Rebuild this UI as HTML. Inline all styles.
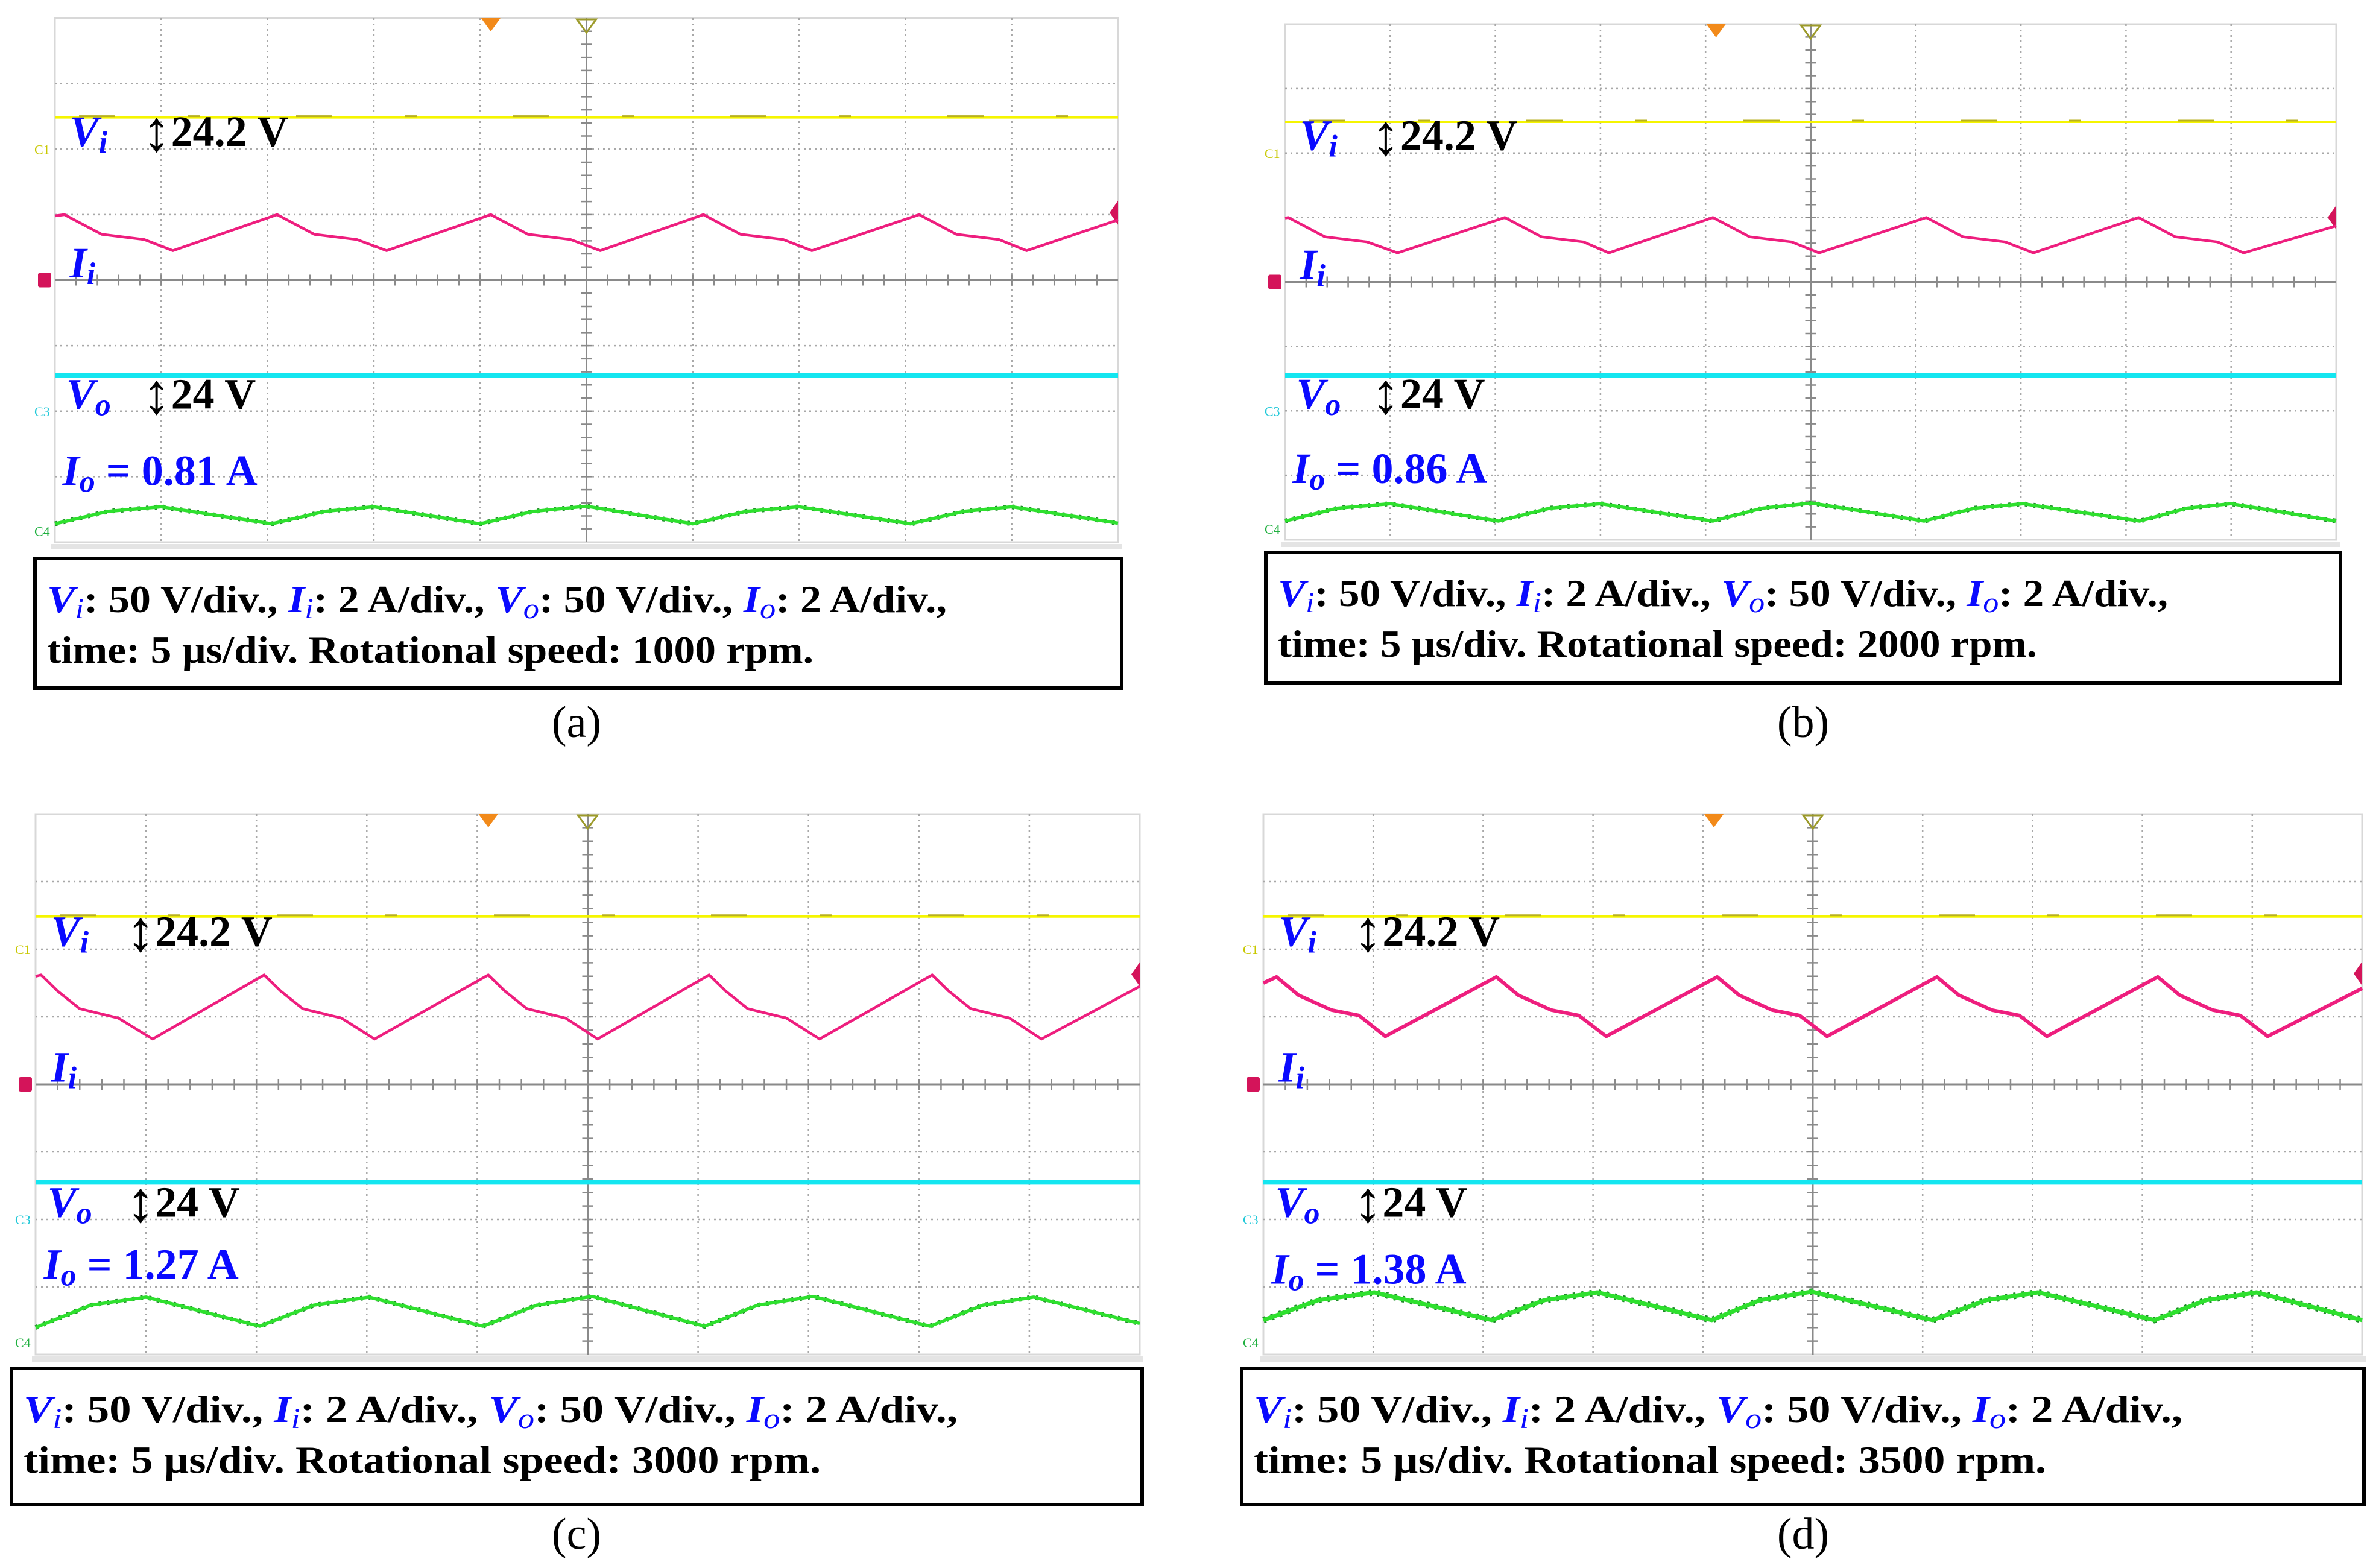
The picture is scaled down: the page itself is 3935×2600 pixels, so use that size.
<!DOCTYPE html>
<html><head><meta charset="utf-8">
<style>
html,body{margin:0;padding:0;background:#fff;}
svg{display:block;}
text{font-family:"Liberation Serif",serif;}
</style></head>
<body>
<svg id="fig" width="3935" height="2600" viewBox="0 0 3935 2600" xmlns="http://www.w3.org/2000/svg"></svg>
<script>
// ---- data (time in µs, current in A, voltage in V) ----
const viV = [24.2, 24.2, 24.2, 24.2];
const voV = [24, 24, 24, 24];
const ioLabels = ["0.81", "0.86", "1.27", "1.38"];
const speeds = ["1000", "2000", "3000", "3500"];
const panelLetters = ["a", "b", "c", "d"];

const iiT_a = [0,0.45,2.2,4.2,5.55,10.45,12.2,14.2,15.6,20.5,22.25,24.25,25.65,30.5,32.25,34.25,35.6,40.65,42.4,44.4,45.7,50];
const iiA_a = [1.96,2.0,1.4,1.24,0.9,2.0,1.4,1.24,0.9,2.0,1.4,1.24,0.9,2.0,1.4,1.24,0.9,2.0,1.4,1.24,0.9,1.84];
const iiT_b = [0,0.15,1.9,3.9,5.35,10.45,12.2,14.2,15.4,20.35,22.1,24.1,25.4,30.5,32.25,34.25,35.6,40.6,42.35,44.35,45.6,50];
const iiA_b = [1.98,2.0,1.4,1.24,0.9,2.0,1.4,1.24,0.9,2.0,1.4,1.24,0.9,2.0,1.4,1.24,0.9,2.0,1.4,1.24,0.9,1.74];
const iiT_c = [0,0.25,1.0,2.0,3.75,5.3,10.35,11.1,12.1,13.85,15.35,20.5,21.25,22.25,24.0,25.45,30.5,31.25,32.25,34.0,35.5,40.6,41.35,42.35,44.1,45.55,50];
const iiA_c = [3.2,3.24,2.76,2.24,1.96,1.34,3.24,2.76,2.24,1.96,1.34,3.24,2.76,2.24,1.96,1.34,3.24,2.76,2.24,1.96,1.34,3.24,2.76,2.24,1.96,1.34,2.9];
const iiT_d = [0,0.6,1.6,3.1,4.35,5.55,10.6,11.6,13.1,14.35,15.6,20.65,21.65,23.15,24.4,25.65,30.65,31.65,33.15,34.4,35.65,40.7,41.7,43.2,44.45,45.7,50];
const iiA_d = [3.0,3.18,2.64,2.2,2.04,1.42,3.18,2.64,2.2,2.04,1.42,3.18,2.64,2.2,2.04,1.42,3.18,2.64,2.2,2.04,1.42,3.18,2.64,2.2,2.04,1.42,2.84];

const ioT_a = [0,2.5,5,10.2,12.7,15,20,22.5,25,30,32.5,35,40.25,42.75,45,50];
const ioA_a = [0.22,0.6,0.74,0.22,0.6,0.74,0.22,0.6,0.76,0.22,0.6,0.74,0.22,0.6,0.74,0.24];
const ioT_b = [0,2.5,5,10.15,12.6,15,20.35,22.7,25.05,30.4,32.8,35.1,40.65,42.9,45,50];
const ioA_b = [0.24,0.64,0.78,0.24,0.64,0.78,0.24,0.64,0.8,0.24,0.64,0.78,0.24,0.64,0.78,0.24];
const ioT_c = [0,2.5,5,10.15,12.6,15.1,20.25,22.7,25.2,30.3,32.7,35.2,40.5,42.9,45.2,50];
const ioA_c = [0.44,1.1,1.34,0.48,1.1,1.34,0.48,1.1,1.36,0.48,1.1,1.36,0.48,1.1,1.34,0.56];
const ioT_d = [0,2.5,5.05,10.4,12.8,15.2,20.4,22.6,24.95,30.45,32.9,35.25,40.55,42.9,45.2,50];
const ioA_d = [0.66,1.25,1.48,0.66,1.25,1.48,0.66,1.25,1.5,0.66,1.25,1.48,0.66,1.25,1.48,0.66];

const iiTs = [iiT_a, iiT_b, iiT_c, iiT_d];
const iiAs = [iiA_a, iiA_b, iiA_c, iiA_d];
const ioTs = [ioT_a, ioT_b, ioT_c, ioT_d];
const ioAs = [ioA_a, ioA_b, ioA_c, ioA_d];

// ---- layout (pixels) ----
const layout = [
 {sx0:91,sy0:30,sx1:1854,sy1:899, bx0:55,by0:923,bx1:1863,by1:1144, l1:1492,l2:1271, lx:956,ly:1222, ioDiv:7.13, trig:2.97, ref4:7.83},
 {sx0:2131,sy0:40,sx1:3874,sy1:895, bx0:2096,by0:913,bx1:3884,by1:1136, l1:1476,l2:1259, lx:2990,ly:1222, ioDiv:7.12, trig:3.0, ref4:7.83},
 {sx0:59,sy0:1350,sx1:1890,sy1:2246, bx0:16,by0:2266,bx1:1897,by1:2498, l1:1549,l2:1322, lx:956,ly:2568, ioDiv:6.88, trig:2.37, ref4:7.82},
 {sx0:2095,sy0:1350,sx1:3917,sy1:2246, bx0:2056,by0:2266,bx1:3923,by1:2498, l1:1540,l2:1314, lx:2990,ly:2568, ioDiv:6.95, trig:2.36, ref4:7.82}
];

const NS = "http://www.w3.org/2000/svg";
const svg = document.getElementById('fig');
function mk(tag, attrs, parent){
  const e = document.createElementNS(NS, tag);
  for (const k in attrs) e.setAttribute(k, attrs[k]);
  (parent||svg).appendChild(e);
  return e;
}
const BLUE = "#0a0aff";

layout.forEach((L, p) => {
  const g = mk('g', {});
  
  
  const W = L.sx1 - L.sx0, H = L.sy1 - L.sy0;
  const X = t => L.sx0 + t / 50 * W;
  const Yd = d => L.sy0 + d / 8 * H;
  const yIi = a => Yd(4 - a / 2);
  const yIo = a => Yd(L.ref4 - a / 2);
  const yVi = v => Yd(2 - v / 50);
  const yVo = v => Yd(5.93 - v / 50);

  const scr = mk('rect', {x:L.sx0, y:L.sy0, width:W, height:H, fill:'#fff', stroke:'#d8d8d8', 'stroke-width':3}, g);
  
  
  const strip = mk('rect', {x:L.sx0-6, y:L.sy1+3, width:W+12, height:9, fill:'#e4e4e4'}, g);
  
  

  const grid = mk('g', {stroke:'#a8a8a8', 'stroke-width':2.5, 'stroke-dasharray':'3 6'}, g);
  
  
  for (let i = 1; i < 10; i++) if (i !== 5) mk('line', {x1:L.sx0 + i*W/10, y1:L.sy0, x2:L.sx0 + i*W/10, y2:L.sy1}, grid);
  for (let j = 1; j < 8; j++) if (j !== 4) mk('line', {x1:L.sx0, y1:L.sy0 + j*H/8, x2:L.sx1, y2:L.sy0 + j*H/8}, grid);
  const ax = mk('g', {stroke:'#8a8a8a', 'stroke-width':3}, g);
  
  
  const cx = L.sx0 + W/2, cy = L.sy0 + H/2;
  mk('line', {x1:L.sx0, y1:cy, x2:L.sx1, y2:cy}, ax);
  mk('line', {x1:cx, y1:L.sy0, x2:cx, y2:L.sy1}, ax);
  for (let k = 1; k < 50; k++) { const x = L.sx0 + k*W/50; mk('line', {x1:x, y1:cy-9, x2:x, y2:cy+9, 'stroke-width':2.5}, ax); }
  for (let k = 1; k < 40; k++) { const y = L.sy0 + k*H/40; mk('line', {x1:cx-9, y1:y, x2:cx+9, y2:y, 'stroke-width':2.5}, ax); }

  const mx = L.sx0 + 4.1*W/10;
  const tri = mk('polygon', {points:`${mx-16},${L.sy0} ${mx+16},${L.sy0} ${mx},${L.sy0+22}`, fill:'#f28a1a'}, g);
  
  
  const tri2 = mk('polygon', {points:`${cx-16},${L.sy0+2} ${cx+16},${L.sy0+2} ${cx},${L.sy0+24}`, fill:'none', stroke:'#9c9a2a', 'stroke-width':3}, g);
  
  
  const ty = Yd(L.trig);
  const tl = mk('polygon', {points:`${L.sx1},${ty-20} ${L.sx1-14},${ty} ${L.sx1},${ty+20}`, fill:'#d4145a'}, g);
  
  

  const chs = [["C1",2,"#c8c800"],["C2",4,"#d4145a"],["C3",6,"#20c8d8"],["C4",L.ref4,"#20b040"]];
  chs.forEach(c => {
    const yy = Yd(c[1]);
    if (c[0] === "C2") {
      const r = mk('rect', {x:L.sx0-28, y:yy-12, width:22, height:24, fill:'#d4145a', rx:3}, g);
      
      
    } else {
      const t = mk('text', {x:L.sx0-34, y:yy+8, 'font-size':22, fill:c[2], 'font-family':'Liberation Sans, sans-serif'}, g);
      t.textContent = c[0];
      
      
    }
  });

  const path = (ts, as, yf) => ts.map((t,i) => (i?'L':'M') + X(t).toFixed(1) + ',' + yf(as[i]).toFixed(1)).join(' ');
  const vi = mk('line', {x1:L.sx0, y1:yVi(viV[p]), x2:L.sx1, y2:yVi(viV[p]), stroke:'#f5f500', 'stroke-width':4}, g);
  
  
  const viN = mk('line', {x1:L.sx0+40, y1:yVi(viV[p])-2, x2:L.sx1-40, y2:yVi(viV[p])-2, stroke:'#b8b020', 'stroke-width':3, 'stroke-dasharray':'60 120 20 160'}, g);
  
  
  const vo = mk('line', {x1:L.sx0, y1:yVo(voV[p]), x2:L.sx1, y2:yVo(voV[p]), stroke:'#14e6f0', 'stroke-width':8}, g);
  
  
  const ii = mk('path', {d:path(iiTs[p], iiAs[p], yIi), fill:'none', stroke:'#ee1e7e', 'stroke-width': p===3?6:4.5, 'stroke-linejoin':'round'}, g);
  
  
  const ioBack = mk('path', {d:path(ioTs[p], ioAs[p], yIo), fill:'none', stroke:'#1f8a2a', 'stroke-width': p===3?11:8, 'stroke-dasharray':'4 10'}, g);
  
  
  const io = mk('path', {d:path(ioTs[p], ioAs[p], yIo), fill:'none', stroke:'#2ee02e', 'stroke-width': p===3?7:5.5, 'stroke-linejoin':'round'}, g);
  
  

  const lab = (x, y, parts, name) => {
    const t = mk('text', {x:x, y:y, 'font-size':72, 'font-weight':'bold'}, g);
    
    
    parts.forEach(pt => {
      const s = mk('tspan', {fill:pt[1]}, t);
      if (pt[2]) s.setAttribute('font-style','italic');
      if (pt[3]) { s.setAttribute('baseline-shift','-22%'); s.setAttribute('font-size','52'); }
      if (pt[4]) { s.setAttribute('font-size','96'); s.setAttribute('font-weight','normal'); s.setAttribute('baseline-shift','-8%'); }
      s.textContent = pt[0];
    });
    return t;
  };
  const x0 = L.sx0 + 0.14*W/10, xa = L.sx0 + 0.82*W/10;
  lab(x0, Yd(1.95), [["V",BLUE,1],["i",BLUE,1,1]], 'vi-label');
  lab(xa, Yd(1.95), [["\u2195","#000",0,0,1],[viV[p] + " V","#000"]], 'vi-value-label');
  lab(x0, Yd(3.96), [["I",BLUE,1],["i",BLUE,1,1]], 'ii-label');
  lab(x0-6, Yd(5.96), [["V",BLUE,1],["o",BLUE,1,1]], 'vo-label');
  lab(xa, Yd(5.96), [["\u2195","#000",0,0,1],[voV[p] + " V","#000"]], 'vo-value-label');
  lab(x0-12, Yd(L.ioDiv), [["I",BLUE,1],["o",BLUE,1,1],[" = " + ioLabels[p] + " A",BLUE]], 'io-value-label');

  const box = mk('rect', {x:L.bx0+3, y:L.by0+3, width:L.bx1-L.bx0-6, height:L.by1-L.by0-6, fill:'#fff', stroke:'#000', 'stroke-width':6}, g);
  
  
  const tx = L.bx0 + 23;
  const c1 = mk('text', {x:tx, y:L.by0+92, 'font-size':64, 'font-weight':'bold', textLength:L.l1, lengthAdjust:'spacingAndGlyphs'}, g);
  
  
  [["V",1],["i",2],[": 50 V/div., ",0],["I",1],["i",2],[": 2 A/div., ",0],["V",1],["o",2],[": 50 V/div., ",0],["I",1],["o",2],[": 2 A/div.,",0]].forEach(pt => {
    const s = mk('tspan', {fill: pt[1] ? BLUE : '#000'}, c1);
    if (pt[1]) s.setAttribute('font-style','italic');
    if (pt[1] === 2) { s.setAttribute('font-size','48'); s.setAttribute('baseline-shift','-20%'); s.setAttribute('font-weight','normal'); }
    s.textContent = pt[0];
  });
  const c2 = mk('text', {x:tx, y:L.by0+176, 'font-size':64, 'font-weight':'bold', textLength:L.l2, lengthAdjust:'spacingAndGlyphs'}, g);
  
  
  c2.textContent = "time: 5 \u00b5s/div. Rotational speed: " + speeds[p] + " rpm.";

  const pl = mk('text', {x:L.lx, y:L.ly, 'font-size':74, 'text-anchor':'middle', fill:'#000'}, g);
  
  
  pl.textContent = "(" + panelLetters[p] + ")";
});
</script>
</body></html>
